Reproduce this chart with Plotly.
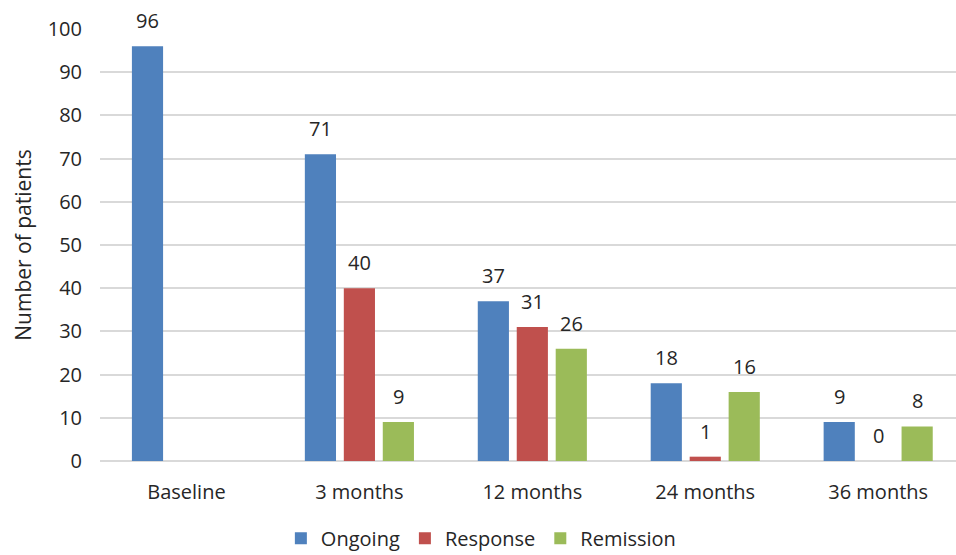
import plotly.graph_objects as go

categories = ["Baseline", "3 months", "12 months", "24 months", "36 months"]
ongoing = [96, 71, 37, 18, 9]
response = [None, 40, 31, 1, 0]
remission = [None, 9, 26, 16, 8]

series = [
    ("Ongoing", ongoing, "#4F81BD"),
    ("Response", response, "#C0504D"),
    ("Remission", remission, "#9BBB59"),
]

FONT = "Open Sans"
TEXT = "#262626"

fig = go.Figure()
for name, vals, color in series:
    fig.add_trace(go.Bar(
        name=name, x=categories, y=vals,
        marker=dict(color=color, line=dict(width=0)),
    ))

# value labels above each bar, offset to each bar's slot in the group
slot_px = 39
annotations = []
for i, (name, vals, color) in enumerate(series):
    for cat, v in zip(categories, vals):
        if v is None:
            continue
        annotations.append(dict(
            x=cat, y=v, xref="x", yref="y", text=str(v), showarrow=False,
            xshift=(i - 1) * slot_px, yanchor="bottom", yshift=10,
            font=dict(family=FONT, size=20, color=TEXT),
        ))

fig.update_layout(
    width=956, height=555,
    margin=dict(l=100, r=0, t=29, b=94),
    paper_bgcolor="white", plot_bgcolor="white",
    barmode="group", bargap=0.324, bargroupgap=0.2,
    font=dict(family=FONT, size=20, color=TEXT),
    annotations=annotations,
    showlegend=True,
    legend=dict(
        orientation="h", xref="container", yref="container",
        x=0.503, xanchor="center", y=0.03, yanchor="middle",
        font=dict(family=FONT, size=20, color=TEXT),
        itemwidth=30,
    ),
    xaxis=dict(
        range=[-0.5, 4.45], showgrid=False, showline=False, zeroline=False,
        ticks="outside", ticklen=13, tickcolor="rgba(0,0,0,0)",
        tickfont=dict(family=FONT, size=20, color=TEXT),
    ),
    yaxis=dict(
        range=[0, 100], dtick=10, showgrid=True, gridcolor="#D9D9D9", gridwidth=1.5,
        zeroline=True, zerolinecolor="#D9D9D9", zerolinewidth=1.5, showline=False,
        ticks="outside", ticklen=13, tickcolor="rgba(0,0,0,0)",
        tickfont=dict(family=FONT, size=20, color=TEXT),
        title=dict(text="Number of patients", standoff=10,
                   font=dict(family=FONT, size=21, color=TEXT)),
    ),
)

fig.write_html("out.html")
